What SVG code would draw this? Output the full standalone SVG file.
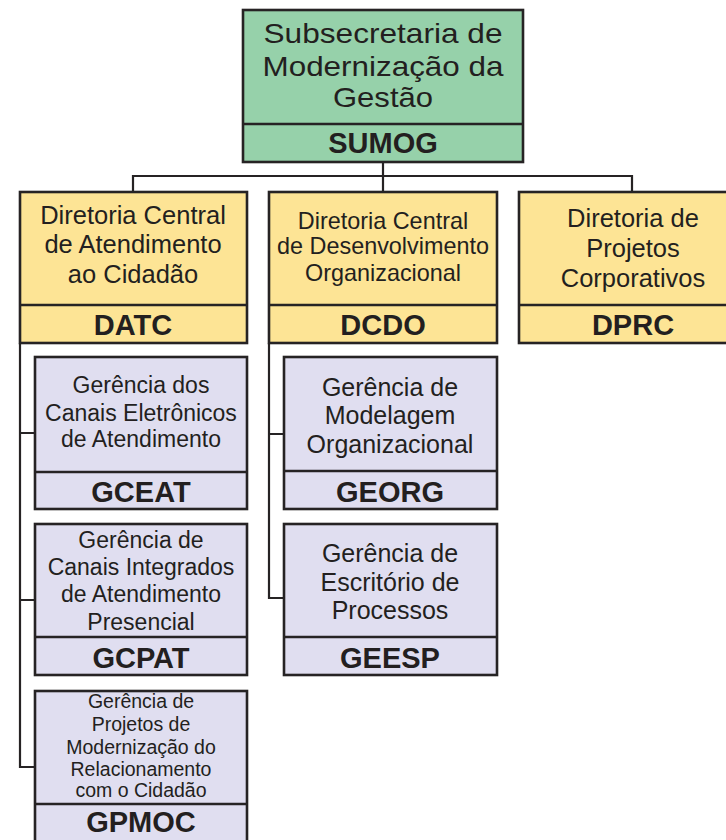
<svg xmlns="http://www.w3.org/2000/svg" width="726" height="840" viewBox="0 0 726 840">
<style>
.box{stroke:#262324;stroke-width:2.6}
.g{fill:#96d1aa}.y{fill:#fde495}.l{fill:#e0def0}
.div{stroke:#262324;stroke-width:2.6}
.con{fill:none;stroke:#262324;stroke-width:2.2}
text{font-family:"Liberation Sans",Arial,sans-serif;fill:#231f20;text-anchor:middle}
.b{font-weight:bold;font-size:29px}
</style>
<rect width="726" height="840" fill="#ffffff"/>
<g id="connectors">
<path class="con" d="M383 162V192M133 192V176H632V192"/>
<path class="con" d="M20 343V767H35M20 433H35M20 600H35"/>
<path class="con" d="M269 343V598H284M269 434H284"/>
</g>
<g id="SUMOG">
<rect class="box g" x="243" y="10" width="280" height="152"/>
<line class="div" x1="243" y1="124" x2="523" y2="124"/>
<text font-size="28" x="383" y="43" textLength="239" lengthAdjust="spacingAndGlyphs">Subsecretaria de</text>
<text font-size="28" x="383" y="76" textLength="241" lengthAdjust="spacingAndGlyphs">Modernização da</text>
<text font-size="28" x="383" y="107" textLength="100" lengthAdjust="spacingAndGlyphs">Gestão</text>
<text class="b" x="383" y="153">SUMOG</text>
</g>
<g id="DATC">
<rect class="box y" x="20" y="192" width="227" height="151"/>
<line class="div" x1="20" y1="305" x2="247" y2="305"/>
<text font-size="25.5" x="133" y="224">Diretoria Central</text>
<text font-size="25.5" x="133" y="253">de Atendimento</text>
<text font-size="25.5" x="133" y="283">ao Cidadão</text>
<text class="b" x="133" y="335">DATC</text>
</g>
<g id="DCDO">
<rect class="box y" x="269" y="192" width="228" height="151"/>
<line class="div" x1="269" y1="305" x2="497" y2="305"/>
<text font-size="23.4" x="383" y="229">Diretoria Central</text>
<text font-size="23.4" x="383" y="254">de Desenvolvimento</text>
<text font-size="23.4" x="383" y="281">Organizacional</text>
<text class="b" x="383" y="335">DCDO</text>
</g>
<g id="DPRC">
<rect class="box y" x="519" y="192" width="228" height="151"/>
<line class="div" x1="519" y1="305" x2="747" y2="305"/>
<text font-size="25.5" x="633" y="227">Diretoria de</text>
<text font-size="25.5" x="633" y="257">Projetos</text>
<text font-size="25.5" x="633" y="287">Corporativos</text>
<text class="b" x="633" y="335">DPRC</text>
</g>
<g id="GCEAT">
<rect class="box l" x="35" y="357" width="212" height="152"/>
<line class="div" x1="35" y1="472" x2="247" y2="472"/>
<text font-size="23" x="141" y="393">Gerência dos</text>
<text font-size="23" x="141" y="421">Canais Eletrônicos</text>
<text font-size="23" x="141" y="447">de Atendimento</text>
<text class="b" x="141" y="502">GCEAT</text>
</g>
<g id="GCPAT">
<rect class="box l" x="35" y="524" width="212" height="151"/>
<line class="div" x1="35" y1="637" x2="247" y2="637"/>
<text font-size="23" x="141" y="548">Gerência de</text>
<text font-size="23" x="141" y="575">Canais Integrados</text>
<text font-size="23" x="141" y="602">de Atendimento</text>
<text font-size="23" x="141" y="630">Presencial</text>
<text class="b" x="141" y="668">GCPAT</text>
</g>
<g id="GPMOC">
<rect class="box l" x="35" y="691" width="212" height="160"/>
<line class="div" x1="35" y1="804" x2="247" y2="804"/>
<text font-size="19.5" x="141" y="708">Gerência de</text>
<text font-size="19.5" x="141" y="731">Projetos de</text>
<text font-size="19.5" x="141" y="754">Modernização do</text>
<text font-size="19.5" x="141" y="776">Relacionamento</text>
<text font-size="19.5" x="141" y="797">com o Cidadão</text>
<text class="b" x="141" y="832">GPMOC</text>
</g>
<g id="GEORG">
<rect class="box l" x="284" y="357" width="213" height="152"/>
<line class="div" x1="284" y1="471" x2="497" y2="471"/>
<text font-size="25" x="390" y="396">Gerência de</text>
<text font-size="25" x="390" y="424">Modelagem</text>
<text font-size="25" x="390" y="453">Organizacional</text>
<text class="b" x="390" y="502">GEORG</text>
</g>
<g id="GEESP">
<rect class="box l" x="284" y="524" width="213" height="151"/>
<line class="div" x1="284" y1="637" x2="497" y2="637"/>
<text font-size="25" x="390" y="562">Gerência de</text>
<text font-size="25" x="390" y="591">Escritório de</text>
<text font-size="25" x="390" y="619">Processos</text>
<text class="b" x="390" y="668">GEESP</text>
</g>
</svg>
